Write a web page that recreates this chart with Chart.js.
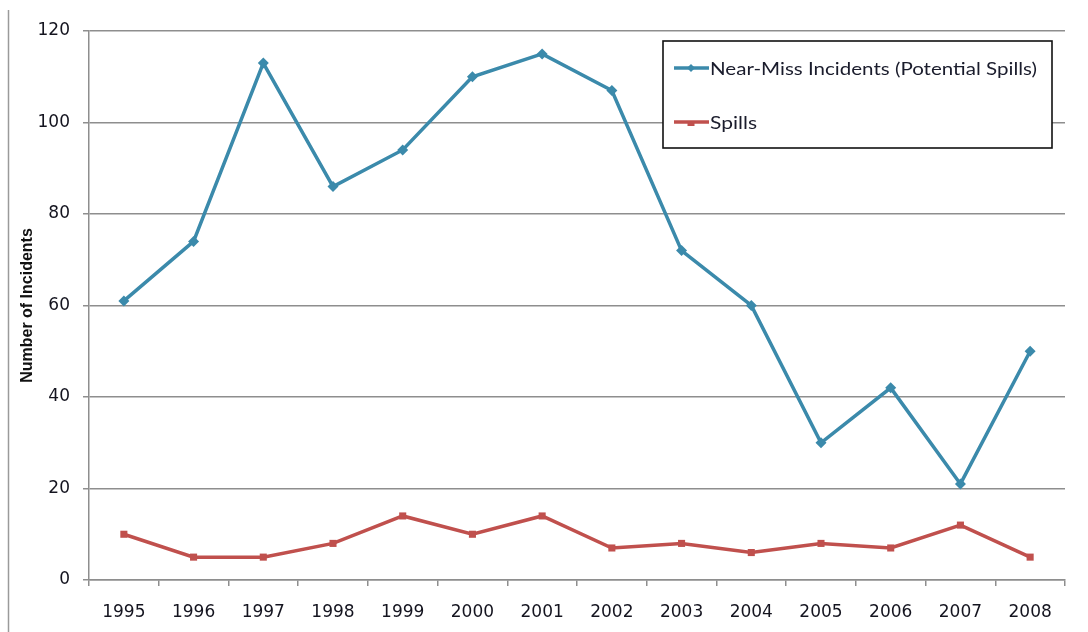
<!DOCTYPE html>
<html><head><meta charset="utf-8">
<script src="https://cdn.jsdelivr.net/npm/chart.js@4.4.1/dist/chart.umd.min.js"></script>
<style>html,body{margin:0;padding:0;background:#fff;overflow:hidden;}</style>
</head><body>
<canvas id="c" width="1088" height="632" style="display:block;width:1088px;height:632px"></canvas>
<script>
const years = ['1995','1996','1997','1998','1999','2000','2001','2002','2003','2004','2005','2006','2007','2008'];
const nearMiss = [61,74,113,86,94,110,115,107,72,60,30,42,21,50];
const spills = [10,5,5,8,14,10,14,7,8,6,8,7,12,5];
const seriesNames = ['Near-Miss Incidents (Potential Spills)','Spills'];
const yAxisTitle = 'Number of Incidents';
const yMin = 0, yMax = 120, yStep = 20;

const TEAL = '#3b8aab';
const RED = '#c0504d';
const GRID = '#8e8e8e';

const framePlugin = {
  id: 'frame',
  afterDraw(chart) {
    const ctx = chart.ctx;
    ctx.save();
    ctx.strokeStyle = '#9a9a9a';
    ctx.lineWidth = 1.5;
    ctx.beginPath();
    ctx.moveTo(8.5, 10);
    ctx.lineTo(8.5, 632);
    ctx.stroke();

    const bx = 663, by = 41, bw = 389, bh = 107;
    ctx.fillStyle = '#fff';
    ctx.fillRect(bx, by, bw, bh);
    ctx.strokeStyle = '#111';
    ctx.lineWidth = 1.6;
    ctx.strokeRect(bx, by, bw, bh);

    const ds = chart.data.datasets;
    const rows = [68, 122];
    const targetW = [327, 47];
    ds.forEach((d, i) => {
      const y = rows[i];
      ctx.strokeStyle = d.borderColor;
      ctx.lineWidth = 3.5;
      ctx.beginPath();
      ctx.moveTo(674, y);
      ctx.lineTo(709, y);
      ctx.stroke();
      ctx.fillStyle = d.borderColor;
      const r = 4;
      if (d.pointStyle === 'rectRot') {
        ctx.beginPath();
        ctx.moveTo(691, y - r); ctx.lineTo(691 + r, y); ctx.lineTo(691, y + r); ctx.lineTo(691 - r, y);
        ctx.closePath(); ctx.fill();
      } else {
        ctx.fillRect(691 - 3.5, y - 1, 7, 5);
      }
      ctx.fillStyle = '#1a1c2c';
      ctx.font = '18px Lato, "Open Sans", sans-serif';
      ctx.textBaseline = 'middle';
      ctx.textAlign = 'left';
      const w = ctx.measureText(d.label).width;
      const sx = targetW[i] / w;
      ctx.save();
      ctx.translate(710, y + 1);
      ctx.scale(sx, 1);
      ctx.fillText(d.label, 0, 0);
      ctx.restore();
    });
    ctx.restore();
  }
};

new Chart(document.getElementById('c'), {
  type: 'line',
  data: {
    labels: years,
    datasets: [
      { label: seriesNames[0], data: nearMiss, borderColor: TEAL, backgroundColor: TEAL,
        borderWidth: 3.5, pointStyle: 'rectRot', pointRadius: 5.5, pointHoverRadius: 5.5,
        pointBorderWidth: 0, tension: 0, fill: false },
      { label: seriesNames[1], data: spills, borderColor: RED, backgroundColor: RED,
        borderWidth: 3.5, pointStyle: 'rect', pointRadius: 5, pointHoverRadius: 5,
        pointBorderWidth: 0, tension: 0, fill: false }
    ]
  },
  options: {
    responsive: false,
    animation: false,
    devicePixelRatio: 1,
    layout: { padding: { left: 0, right: 23, top: 31, bottom: 0 } },
    plugins: { legend: { display: false }, tooltip: { enabled: false }, title: { display: false } },
    scales: {
      x: {
        type: 'category',
        offset: true,
        grid: { offset: true, drawOnChartArea: false, drawTicks: true, tickLength: 6, color: GRID, lineWidth: 1.5 },
        border: { display: true, color: GRID, width: 1.5 },
        ticks: { color: '#14141f', font: { family: '"DejaVu Sans", Verdana, sans-serif', size: 17 }, padding: 16, maxRotation: 0, autoSkip: false },
        afterFit(s) { s.height = 52; }
      },
      y: {
        min: yMin, max: yMax,
        ticks: { stepSize: yStep, color: '#14141f', font: { family: '"DejaVu Sans", Verdana, sans-serif', size: 17 }, padding: 13 },
        grid: { color: GRID, lineWidth: 1.5, drawTicks: true, tickLength: 6, tickColor: GRID },
        border: { display: true, color: GRID, width: 1.5 },
        title: { display: true, text: yAxisTitle, color: '#111', font: { family: '"Liberation Sans Narrow", "Liberation Sans", sans-serif', size: 16, weight: 'bold' }, padding: { top: 18, bottom: 18 } },
        afterFit(s) { s.width = 89; }
      }
    }
  },
  plugins: [framePlugin]
});
</script>
</body></html>
